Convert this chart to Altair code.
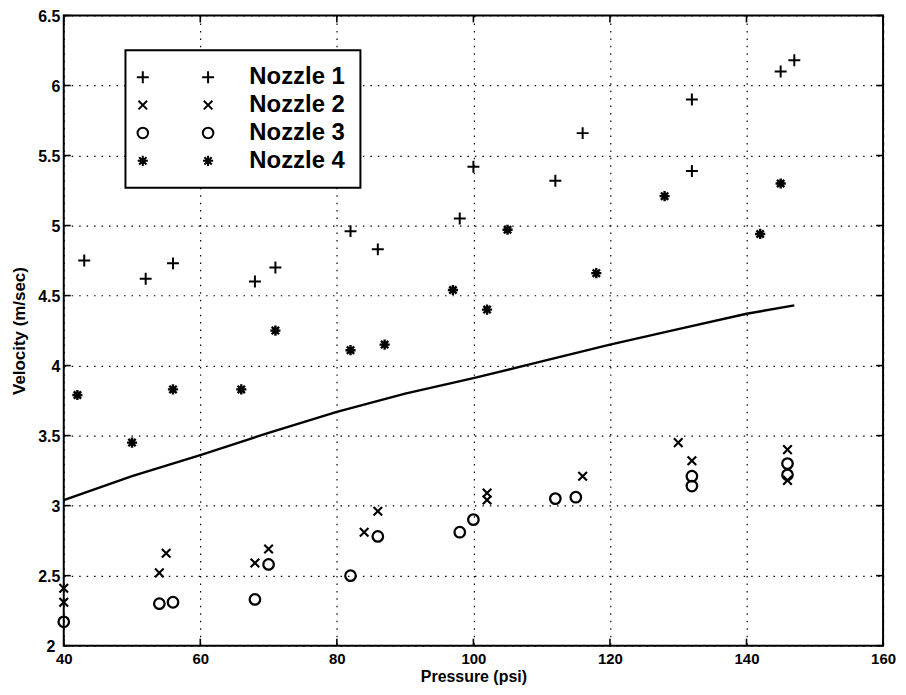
import altair as alt
import pandas as pd

# ---------------- data ----------------
nozzles = ["Nozzle 1", "Nozzle 2", "Nozzle 3", "Nozzle 4"]

n1_x = [43, 52, 56, 68, 71, 82, 86, 98, 100, 112, 116, 132, 132, 145, 147]
n1_y = [4.75, 4.62, 4.73, 4.60, 4.70, 4.96, 4.83, 5.05, 5.42, 5.32, 5.66, 5.90, 5.39, 6.10, 6.18]

n2_x = [40, 40, 54, 55, 68, 70, 84, 86, 102, 102, 116, 130, 132, 146, 146]
n2_y = [2.41, 2.31, 2.52, 2.66, 2.59, 2.69, 2.81, 2.96, 3.09, 3.04, 3.21, 3.45, 3.32, 3.40, 3.18]

n3_x = [40, 54, 56, 68, 70, 82, 86, 98, 100, 112, 115, 132, 132, 146, 146]
n3_y = [2.17, 2.30, 2.31, 2.33, 2.58, 2.50, 2.78, 2.81, 2.90, 3.05, 3.06, 3.21, 3.14, 3.30, 3.22]

n4_x = [42, 50, 56, 66, 71, 82, 87, 97, 102, 105, 118, 128, 142, 145]
n4_y = [3.79, 3.45, 3.83, 3.83, 4.25, 4.11, 4.15, 4.54, 4.40, 4.97, 4.66, 5.21, 4.94, 5.30]

fit_x = [40, 50, 60, 70, 80, 90, 100, 110, 120, 130, 140, 147]
fit_y = [3.04, 3.21, 3.36, 3.52, 3.67, 3.80, 3.91, 4.03, 4.15, 4.26, 4.37, 4.43]

x_ticks = [40, 60, 80, 100, 120, 140, 160]
y_ticks = [2, 2.5, 3, 3.5, 4, 4.5, 5, 5.5, 6, 6.5]

# ---------------- tables ----------------
rows = []
for name, xs, ys in zip(nozzles, [n1_x, n2_x, n3_x, n4_x], [n1_y, n2_y, n3_y, n4_y]):
    for a, b in zip(xs, ys):
        rows.append({"Pressure": a, "Velocity": b, "Nozzle": name})
pts = pd.DataFrame(rows)
fit = pd.DataFrame({"Pressure": fit_x, "Velocity": fit_y})
xt = pd.DataFrame({"Pressure": x_ticks})
yt = pd.DataFrame({"Velocity": y_ticks})

W, H = 823, 633
FONT = "Liberation Sans"


def f(v):
    return f"{v:.3f}".rstrip("0").rstrip(".")


def plus(a, r=1.0):
    return f"M{f(a-r)},0H{f(a+r)}M{f(a)},{f(-r)}V{f(r)}"


def cross(a, r):
    return f"M{f(a-r)},{f(-r)}L{f(a+r)},{f(r)}M{f(a-r)},{f(r)}L{f(a+r)},{f(-r)}"


def circ(a, r):
    return f"M{f(a-r)},0A{f(r)},{f(r)} 0 1,0 {f(a+r)},0A{f(r)},{f(r)} 0 1,0 {f(a-r)},0"


def star(a, r):
    return plus(a, r) + cross(a, r * 0.72)


main_paths = [plus(0, 1.0), cross(0, 0.72), circ(0, 0.88), star(0, 0.85)]
a1, a2 = -1.6, 9.33
legend_paths = [
    plus(a1, 1.0) + plus(a2, 1.0),
    cross(a1, 0.72) + cross(a2, 0.72),
    circ(a1, 0.88) + circ(a2, 0.88),
    star(a1, 0.85) + star(a2, 0.85),
]

X = alt.X(
    "Pressure:Q",
    scale=alt.Scale(domain=[40, 160], nice=False, zero=False),
    axis=alt.Axis(
        values=x_ticks, title="Pressure (psi)", labelPadding=6, labelFlush=False,
        labelFontSize=15, titleFontSize=16,
        titleX=W / 2, titleY=36, titleBaseline="alphabetic", titleAlign="center",
    ),
)
Y = alt.Y(
    "Velocity:Q",
    scale=alt.Scale(domain=[2, 6.5], nice=False, zero=False),
    axis=alt.Axis(
        values=y_ticks, format="~g", title="Velocity (m/sec)",
        labelPadding={"condition": {"test": "datum.value == 2", "value": 9}, "value": 4},
        labelFlush=False, labelOffset=1, titleX=-44, titleY=H / 2, titleAngle=270,
        titleBaseline="middle", titleAlign="center",
    ),
)

line = alt.Chart(fit).mark_line(color="black", strokeWidth=2.4).encode(x=X, y=Y)

points = alt.Chart(pts).mark_point(filled=False, color="black", opacity=1, size=144).encode(
    x=X,
    y=Y,
    shape=alt.Shape("Nozzle:N", scale=alt.Scale(domain=nozzles, range=main_paths), legend=None),
    strokeWidth=alt.StrokeWidth(
        "Nozzle:N", scale=alt.Scale(domain=nozzles, range=[2.0, 2.4, 1.8, 3.0]), legend=None
    ),
)

legend_layer = (
    alt.Chart(pts)
    .transform_filter("datum.Pressure < 0")
    .mark_point(filled=False, color="black", opacity=1, size=144)
    .encode(
        x=X,
        y=Y,
        shape=alt.Shape(
            "Nozzle:N",
            title=None,
            scale=alt.Scale(domain=nozzles, range=legend_paths),
            legend=alt.Legend(
                orient="none", legendX=62, legendY=35, padding=15,
                strokeColor="black", fillColor="white",
                labelFont=FONT, labelFontWeight="bold", labelFontSize=24, labelColor="black",
                symbolSize=144, symbolStrokeWidth=2, symbolStrokeColor="black",
                labelOffset=85.4, rowPadding=4,
            ),
        ),
    )
)

tick_style = dict(color="black", strokeWidth=1.6)
t_bottom = alt.Chart(xt).mark_rule(**tick_style).encode(x=X, y=alt.value(H), y2=alt.value(H - 7))
t_top = alt.Chart(xt).mark_rule(**tick_style).encode(x=X, y=alt.value(0), y2=alt.value(7))
t_left = alt.Chart(yt).mark_rule(**tick_style).encode(y=Y, x=alt.value(0), x2=alt.value(7))
t_right = alt.Chart(yt).mark_rule(**tick_style).encode(y=Y, x=alt.value(W), x2=alt.value(W - 7))

chart = (
    alt.layer(line, points, t_bottom, t_top, t_left, t_right, legend_layer)
    .resolve_scale(shape="independent", strokeWidth="independent")
    .properties(
        width=W, height=H,
        autosize=alt.AutoSizeParams(type="none"),
        padding={"left": 56, "top": 6, "right": 15, "bottom": 40},
        background="white",
    )
    .configure_view(stroke="black", strokeWidth=2)
    .configure_axis(
        domain=False, ticks=False, grid=True, gridColor="black", gridDash=[1.5, 6],
        gridWidth=1.2, gridOpacity=1,
        labelFont=FONT, labelFontWeight="bold", labelFontSize=16, labelColor="black",
        titleFont=FONT, titleFontWeight="bold", titleFontSize=17, titleColor="black",
    )
    .configure_legend(strokeWidth=2)
)

chart.save("out.html", embed_options={"renderer": "svg", "actions": False})
